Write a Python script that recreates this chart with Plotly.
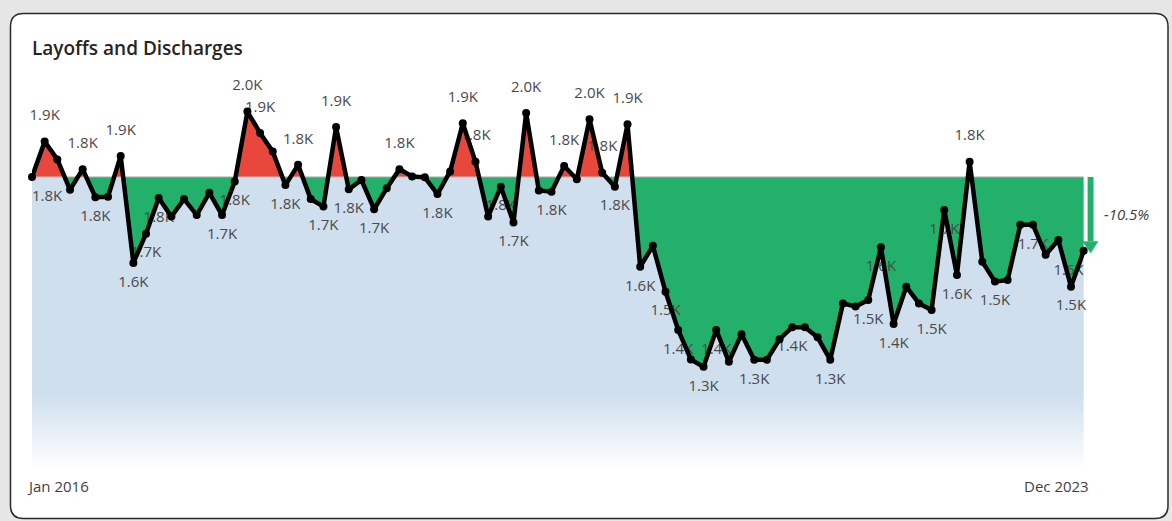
import plotly.graph_objects as go

# ---------------- data ----------------
title_text = "Layoffs and Discharges"
tick_labels = ["Jan 2016", "Dec 2023"]
values = [1810, 1901, 1855, 1777, 1830, 1758, 1759, 1864, 1589, 1664,
          1756, 1708, 1753, 1712, 1769, 1712, 1798, 1978, 1923, 1875,
          1789, 1841, 1753, 1734, 1938, 1778, 1802, 1727, 1781, 1830,
          1811, 1809, 1766, 1824, 1948, 1849, 1708, 1785, 1693, 1974,
          1775, 1772, 1838, 1804, 1958, 1821, 1785, 1945, 1579, 1633,
          1515, 1417, 1341, 1322, 1417, 1335, 1406, 1340, 1340, 1393,
          1424, 1424, 1398, 1340, 1485, 1477, 1494, 1629, 1432, 1528,
          1485, 1468, 1725, 1558, 1849, 1592, 1541, 1545, 1687, 1687,
          1610, 1648, 1528, 1620]
labeled_idx = [0, 1, 4, 5, 7, 8, 9, 10, 15, 16, 17, 18, 20, 21, 23, 24, 25, 27,
               29, 32, 34, 35, 37, 38, 39, 41, 42, 44, 45, 46, 47, 48, 50, 51,
               53, 54, 57, 60, 63, 66, 67, 68, 71, 72, 73, 74, 76, 79, 82, 83]

# ---------------- derived ----------------
n = len(values)
x = list(range(n))
base = values[0]
last = values[-1]
pct = (last - base) / base * 100

dx, dv = [x[0]], [values[0]]
for i in range(n - 1):
    a, b = values[i], values[i + 1]
    if (a - base) * (b - base) < 0:
        t = (base - a) / (b - a)
        dx.append(i + t)
        dv.append(base)
    dx.append(i + 1)
    dv.append(b)
upper = [max(v, base) for v in dv]
lower = [min(v, base) for v in dv]

W, H = 1172, 521
ML, MR, MT, MB = 32, 63, 80, 51
XR = [0, 85]
YR = [1057, 2059]
UNITS_PER_PX = (YR[1] - YR[0]) / (H - MT - MB)

RED = "#e8473b"
GREEN = "#22b06b"
BLUE = "#cfdfee"

fig = go.Figure()
fig.add_trace(go.Scatter(
    x=x, y=values, mode="none", fill="tozeroy", hoverinfo="skip",
    fillgradient=dict(type="vertical",
                      colorscale=[[0, "rgba(255,255,255,1)"], [1, BLUE]],
                      start=YR[0], stop=1250)))
fig.add_trace(go.Scatter(x=dx, y=[base] * len(dx), mode="lines",
                         line=dict(width=0), hoverinfo="skip"))
fig.add_trace(go.Scatter(x=dx, y=upper, mode="none", fill="tonexty",
                         fillcolor=RED, hoverinfo="skip"))
fig.add_trace(go.Scatter(x=dx, y=[base] * len(dx), mode="lines",
                         line=dict(width=0), hoverinfo="skip"))
fig.add_trace(go.Scatter(x=dx, y=lower, mode="none", fill="tonexty",
                         fillcolor=GREEN, hoverinfo="skip"))
fig.add_trace(go.Scatter(x=[0, n - 1], y=[base, base], mode="lines",
                         line=dict(color="#b5b5b5", width=1), hoverinfo="skip"))

# data labels (drawn beneath the line, as in the reference)
lx, ly, lt, lp = [], [], [], []
for i in labeled_idx:
    v = values[i]
    above = v > base
    lx.append(i)
    ly.append(v + (25 if above else -20) * UNITS_PER_PX)
    lt.append(f"{v / 1000:.1f}K")
    if i == 0:
        lp.append("middle right")
    elif i == n - 1:
        lp.append("middle left")
    else:
        lp.append("middle center")
fig.add_trace(go.Scatter(x=lx, y=ly, mode="text", text=lt, textposition=lp,
                         textfont=dict(family="Open Sans, sans-serif", size=15,
                                       color="#4a4a4a"),
                         cliponaxis=False, hoverinfo="skip"))

fig.add_trace(go.Scatter(x=x, y=values, mode="lines+markers",
                         line=dict(color="#000000", width=4.5),
                         marker=dict(color="#000000", size=8),
                         cliponaxis=False, hoverinfo="skip"))

# ---------------- card ----------------
def px(p):
    return (p - ML) / (W - ML - MR)

def py(p):
    return (H - MB - p) / (H - MT - MB)

L, T, R, B, r = 10.5, 13.5, 1168, 518.5, 13
path = (f"M {px(L + r)},{py(T)} L {px(R - r)},{py(T)} Q {px(R)},{py(T)} {px(R)},{py(T + r)} "
        f"L {px(R)},{py(B - r)} Q {px(R)},{py(B)} {px(R - r)},{py(B)} "
        f"L {px(L + r)},{py(B)} Q {px(L)},{py(B)} {px(L)},{py(B - r)} "
        f"L {px(L)},{py(T + r)} Q {px(L)},{py(T)} {px(L + r)},{py(T)} Z")
shapes = [dict(type="path", xref="paper", yref="paper", path=path,
               fillcolor="white", line=dict(color="#2b2b2b", width=1.5), layer="below")]

# ---------------- change arrow ----------------
xa = n - 1
head_base = last + 25
tip = last - 6
shapes += [
    dict(type="rect", xref="x", yref="y", x0=xa + 0.02, x1=xa + 0.31, y0=head_base, y1=base,
         fillcolor="white", line=dict(width=0), layer="above"),
    dict(type="rect", xref="x", yref="y", x0=xa + 0.31, x1=xa + 0.78, y0=head_base, y1=base,
         fillcolor=GREEN, line=dict(width=0), layer="above"),
    dict(type="path", xref="x", yref="y",
         path=f"M {xa - 0.1},{head_base} L {xa + 1.16},{head_base} L {xa + 0.55},{tip} Z",
         fillcolor=GREEN, line=dict(width=0), layer="below"),
]

# ---------------- annotations ----------------
ann = []
ann.append(dict(x=0, y=py(486), xref="x", yref="paper", text=tick_labels[0],
                showarrow=False, xanchor="left", xshift=-7, yanchor="middle",
                font=dict(family="Open Sans, sans-serif", size=15, color="#3f3f3f")))
ann.append(dict(x=n - 1, y=py(486), xref="x", yref="paper", text=tick_labels[1],
                showarrow=False, xanchor="right", xshift=7, yanchor="middle",
                font=dict(family="Open Sans, sans-serif", size=15, color="#3f3f3f")))
ann.append(dict(x=xa + 1.45, y=(base + last) / 2, xref="x", yref="y",
                text=f"<i>{pct:.1f}%</i>", showarrow=False, xanchor="left",
                yanchor="middle",
                font=dict(family="Open Sans, sans-serif", size=15, color="#404040")))
ann.append(dict(x=px(30), y=py(48), xref="paper", yref="paper", text=title_text,
                showarrow=False, xanchor="left", yanchor="middle",
                font=dict(family="Open Sans, sans-serif", size=19, color="#252423",
                          weight=600)))

fig.update_layout(
    width=W, height=H, autosize=False,
    margin=dict(l=ML, r=MR, t=MT, b=MB, pad=0),
    paper_bgcolor="#e6e6e6", plot_bgcolor="rgba(0,0,0,0)",
    showlegend=False,
    xaxis=dict(range=XR, visible=False, fixedrange=True),
    yaxis=dict(range=YR, visible=False, fixedrange=True),
    shapes=shapes, annotations=ann,
)

fig.write_html("out.html")
